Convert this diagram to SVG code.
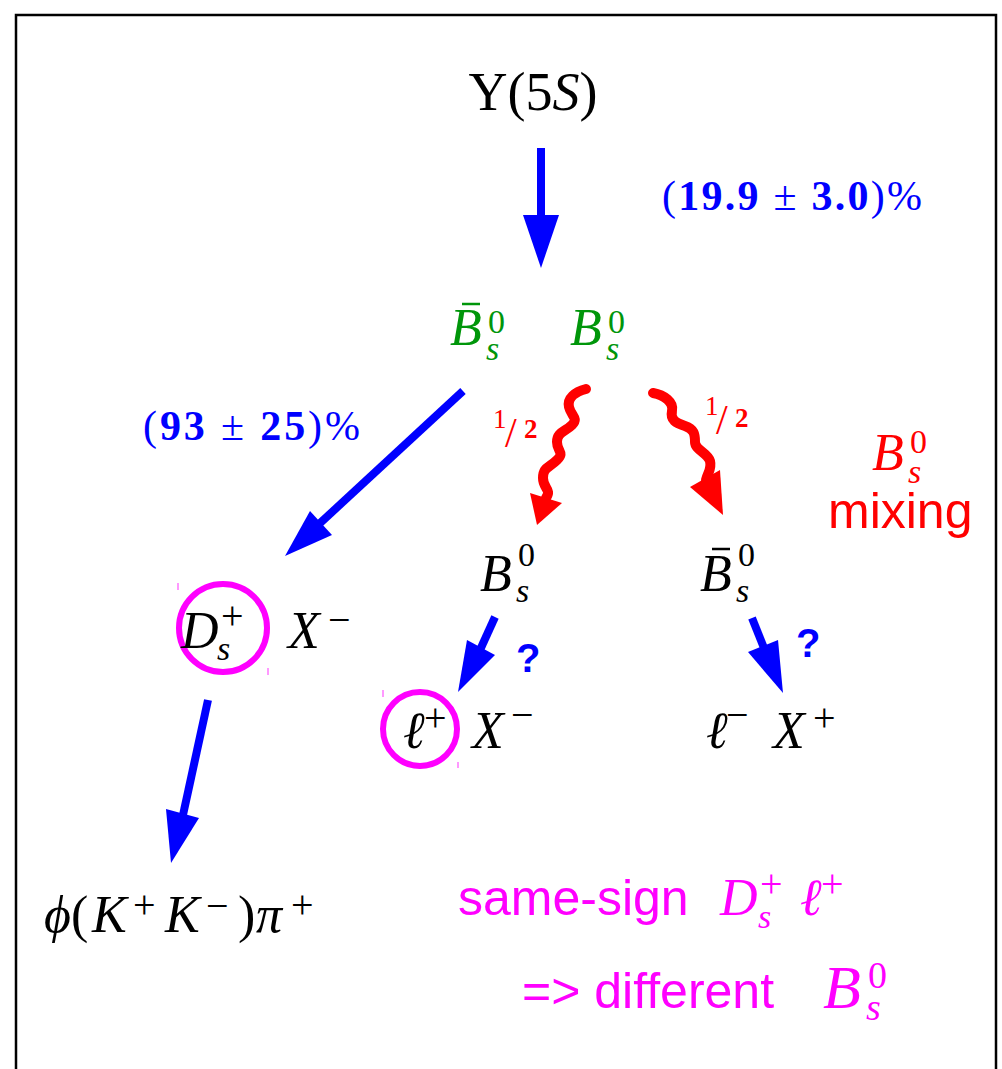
<svg xmlns="http://www.w3.org/2000/svg" width="1002" height="1069" viewBox="0 0 1002 1069">
<style>
.m{font-family:"Liberation Serif","DejaVu Serif",serif;font-style:italic}
.u{font-family:"Liberation Serif","DejaVu Serif",serif}
.sans{font-family:"Liberation Sans",Arial,sans-serif}
.big{font-size:52px}
.sc{font-size:34px}
.op{font-size:40px}
.blue{fill:#0000ff}
.green{fill:#00960a}
.red{fill:#ff0000}
.mag{fill:#ff00ff}
.shaft{stroke:#0000ff;stroke-width:8;fill:none}
.wave{stroke:#ff0000;stroke-width:10;fill:none;stroke-linecap:round;stroke-linejoin:round}
.ring{fill:none;stroke:#ff00ff;stroke-width:6}
.tick{stroke:#ff77ff;stroke-width:1.5}
</style>
<rect width="1002" height="1069" fill="#ffffff"/>
<rect x="16" y="15" width="980" height="1070" fill="none" stroke="#000" stroke-width="2.5"/>

<g id="connectors">
  <line class="shaft" x1="541" y1="148" x2="541" y2="220"/>
  <polygon fill="#0000ff" points="523,215 559,215 541,268"/>
  <line class="shaft" x1="463" y1="391" x2="318" y2="525"/>
  <polygon fill="#0000ff" points="310,511 332,535 285,556"/>
  <line class="shaft" x1="208" y1="700" x2="183" y2="815"/>
  <polygon fill="#0000ff" points="166,809 199,818 171,863"/>
  <line class="shaft" x1="495" y1="617" x2="480" y2="650"/>
  <polygon fill="#0000ff" points="467,640 495,655 458,692"/>
  <line class="shaft" x1="752" y1="618" x2="764" y2="648"/>
  <polygon fill="#0000ff" points="748,652 778,640 783,693"/>
  <path class="wave" d="M586,389 C575,392 567,398 569,407 S579,418 572,425 S557,432 557,442 S565,452 557,460 S543,467 543,478 S552,489 546,498"/>
  <polygon fill="#ff0000" points="530,493 562,503 537,525"/>
  <path class="wave" d="M653,393 C664,395 674,402 672,411 S676,423 685,426 S695,434 695,442 S708,453 710,461 S708,472 706,480"/>
  <polygon fill="#ff0000" points="690,487 720,470 723,515"/>
</g>

<g id="upsilon">
  <text class="u" x="533" y="110" font-size="54" text-anchor="middle">Υ(5<tspan font-style="italic">S</tspan>)</text>
</g>

<g id="label-19-9">
  <text class="u blue" x="662" y="210" font-size="42" textLength="260" lengthAdjust="spacing">(<tspan font-weight="bold">19.9</tspan> ± <tspan font-weight="bold">3.0</tspan>)%</text>
</g>

<g id="bsbar-bs-green">
  <line x1="462" y1="304" x2="480" y2="304" stroke="#00960a" stroke-width="2.5"/>
  <text class="m big green" x="450" y="345">B</text>
  <text class="u sc green" x="488" y="333">0</text>
  <text class="m sc green" x="486" y="360">s</text>
  <text class="m big green" x="570" y="345">B</text>
  <text class="u sc green" x="608" y="333">0</text>
  <text class="m sc green" x="606" y="360">s</text>
</g>

<g id="label-93">
  <text class="u blue" x="143" y="440" font-size="42" textLength="217" lengthAdjust="spacing">(<tspan font-weight="bold">93</tspan> ± <tspan font-weight="bold">25</tspan>)%</text>
</g>

<g id="half-left">
  <text class="u red" x="493" y="428" font-size="27">1</text>
  <text class="u red" x="505" y="447" font-size="42">/</text>
  <text class="u red" x="524" y="438" font-size="27" font-weight="bold">2</text>
</g>
<g id="half-right">
  <text class="u red" x="705" y="415" font-size="27">1</text>
  <text class="u red" x="716" y="434" font-size="42">/</text>
  <text class="u red" x="735" y="427" font-size="27" font-weight="bold">2</text>
</g>

<g id="mixing">
  <text class="m big red" x="872" y="470">B</text>
  <text class="u sc red" x="910" y="453">0</text>
  <text class="m sc red" x="908" y="483">s</text>
  <text class="sans red" x="828" y="528" font-size="50">mixing</text>
</g>

<g id="bs-mid">
  <text class="m big" x="480" y="591">B</text>
  <text class="u sc" x="518" y="566">0</text>
  <text class="m sc" x="516" y="602">s</text>
</g>
<g id="bsbar-right">
  <line x1="712" y1="549" x2="730" y2="549" stroke="#000" stroke-width="2.5"/>
  <text class="m big" x="700" y="591">B</text>
  <text class="u sc" x="738" y="566">0</text>
  <text class="m sc" x="736" y="602">s</text>
</g>

<g id="ds-x">
  <circle class="ring" cx="223" cy="628" r="44"/>
  <line class="tick" x1="178" y1="583" x2="178" y2="590"/>
  <line class="tick" x1="268" y1="668" x2="268" y2="675"/>
  <text class="m big" x="181" y="648">D</text>
  <text class="u op" x="221" y="629">+</text>
  <text class="m sc" x="217" y="660">s</text>
  <text class="m big" x="288" y="648">X</text>
  <text class="u op" x="328" y="633">−</text>
</g>

<g id="q-left">
  <text class="sans blue" x="516" y="672" font-size="40" font-weight="bold">?</text>
</g>
<g id="q-right">
  <text class="sans blue" x="796" y="657" font-size="40" font-weight="bold">?</text>
</g>

<g id="lplus-x">
  <circle class="ring" cx="420" cy="729" r="37"/>
  <line class="tick" x1="383" y1="690" x2="383" y2="697"/>
  <line class="tick" x1="458" y1="762" x2="458" y2="768"/>
  <text class="m big" x="403" y="748">ℓ</text>
  <text class="u op" x="424" y="731">+</text>
  <text class="m big" x="472" y="748">X</text>
  <text class="u op" x="511" y="728">−</text>
</g>

<g id="lminus-x">
  <text class="m big" x="706" y="748">ℓ</text>
  <text class="u op" x="726" y="728">−</text>
  <text class="m big" x="773" y="748">X</text>
  <text class="u op" x="813" y="731">+</text>
</g>

<g id="phi">
  <text class="u big" x="44" y="932"><tspan font-style="italic">ϕ</tspan>(</text>
  <text class="m big" x="92" y="932">K</text>
  <text class="u op" x="133" y="918">+</text>
  <text class="m big" x="165" y="932">K</text>
  <text class="u op" x="206" y="919">−</text>
  <text class="u big" x="238" y="932">)</text>
  <text class="m big" x="256" y="932">π</text>
  <text class="u op" x="291" y="918">+</text>
</g>

<g id="conclusion">
  <text class="sans mag" x="458" y="915" font-size="50">same-sign</text>
  <text class="m big mag" x="720" y="915">D</text>
  <text class="u op mag" x="760" y="897">+</text>
  <text class="m sc mag" x="758" y="928">s</text>
  <text class="m big mag" x="800" y="915">ℓ</text>
  <text class="u op mag" x="821" y="897">+</text>
  <text class="sans mag" x="522" y="1008" font-size="50">=&gt; different</text>
  <text class="m mag" x="823" y="1008" font-size="62">B</text>
  <text class="u mag" x="868" y="988" font-size="38">0</text>
  <text class="m mag" x="866" y="1020" font-size="38">s</text>
</g>
</svg>
